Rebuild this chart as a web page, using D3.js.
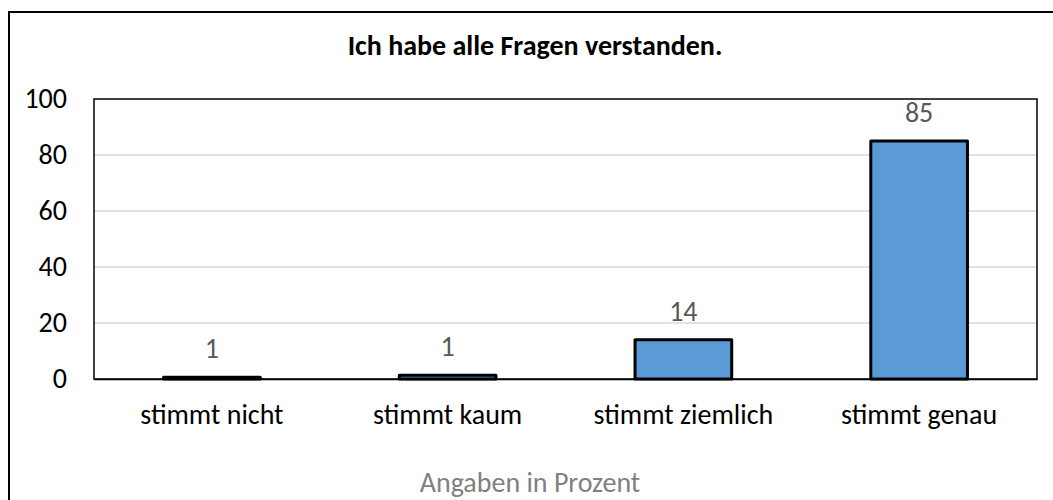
<!DOCTYPE html>
<html><head><meta charset="utf-8">
<script src="https://cdn.jsdelivr.net/npm/d3@7"></script>
<style>body{margin:0;background:#fff}svg{display:block}text{font-family:Carlito,Calibri,"Open Sans",sans-serif}</style>
</head><body><svg id="c" width="1053" height="500"></svg>
<script>
const categories = ["stimmt nicht","stimmt kaum","stimmt ziemlich","stimmt genau"];
const values = [0.6, 1.3, 14, 85];
const yTicks = [0,20,40,60,80,100];
const title = "Ich habe alle Fragen verstanden.";
const footer = "Angaben in Prozent";

const FONT = 'Carlito,Calibri,"Open Sans",sans-serif';
const svg = d3.select("#c");
const m = {left:94, right:1037, top:99, bottom:379};
const x = d3.scaleBand().domain(categories).range([m.left,m.right]).paddingInner(0.59).paddingOuter(0.295);
const y = d3.scaleLinear().domain([0,100]).range([m.bottom,m.top]);

svg.append("rect").attr("x",9).attr("y",12).attr("width",1100).attr("height",600)
  .attr("fill","#fff").attr("stroke","#000").attr("stroke-width",2);

svg.append("text").attr("x",535).attr("y",55).attr("text-anchor","middle")
  .attr("font-weight","bold").attr("font-size",28).attr("fill","#000").text(title);

// gridlines
svg.append("g").selectAll("line").data(yTicks.filter(d=>d>0&&d<100)).join("line")
  .attr("x1",m.left).attr("x2",m.right).attr("y1",d=>y(d)).attr("y2",d=>y(d))
  .attr("stroke","#D9D9D9").attr("stroke-width",1.5);

// plot border
svg.append("rect").attr("x",m.left).attr("y",m.top).attr("width",m.right-m.left).attr("height",m.bottom-m.top)
  .attr("fill","none").attr("stroke","#000").attr("stroke-width",1.5);

// y axis labels
const yAxis = svg.append("g").attr("transform",`translate(${m.left},0)`)
  .call(d3.axisLeft(y).tickValues(yTicks).tickSize(0).tickPadding(27));
yAxis.select(".domain").remove();
yAxis.selectAll("text").attr("font-size",28).attr("dy","0.3em").attr("fill","#000").style("font-family",FONT);

// bars
svg.append("g").selectAll("rect").data(values).join("rect")
  .attr("x",(d,i)=>x(categories[i])).attr("width",x.bandwidth())
  .attr("y",d=>y(d)).attr("height",d=>y(0)-y(d))
  .attr("fill","#5B9BD5").attr("stroke","#000").attr("stroke-width",3).attr("stroke-linejoin","round");

// value labels
svg.append("g").selectAll("text").data(values).join("text")
  .attr("x",(d,i)=>x(categories[i])+x.bandwidth()/2).attr("y",d=>y(d)-19)
  .attr("text-anchor","middle").attr("font-size",28).attr("fill","#595959")
  .text(d=>d3.format(".0f")(d));

// x axis
const xAxis = svg.append("g").attr("transform",`translate(0,${m.bottom})`)
  .call(d3.axisBottom(x).tickSize(0));
xAxis.select(".domain").attr("stroke","#000").attr("stroke-width",1.5);
xAxis.selectAll("text").attr("dy",null).attr("y",45).attr("font-size",28).attr("fill","#000").style("font-family",FONT);

svg.append("text").attr("x",530).attr("y",492).attr("text-anchor","middle")
  .attr("font-size",28).attr("fill","#808080").text(footer);
</script></body></html>
